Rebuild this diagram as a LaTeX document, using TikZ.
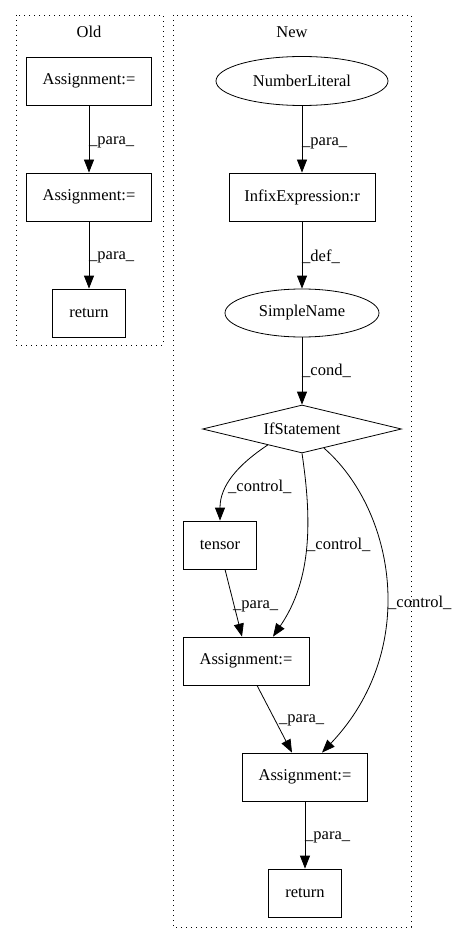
\documentclass[tikz,border=0pt]{standalone}
\usepackage{fontspec}
\setmainfont{Liberation Serif}
\usetikzlibrary{shapes.geometric,arrows.meta,calc}
\begin{document}
\begin{tikzpicture}[x=1pt,y=-1pt,
  every node/.style={font=\fontsize{16.5}{18}\selectfont},
  box/.style={draw, rectangle, inner sep=0pt, minimum height=48pt, line width=0.8pt},
  oval/.style={draw, ellipse, inner sep=0pt, minimum height=49pt, line width=0.8pt},
  cond/.style={draw, diamond, inner sep=0pt, aspect=4, minimum width=199pt, minimum height=48pt, line width=0.8pt},
  edge/.style={line width=0.8pt, -{Triangle[length=13pt,width=10pt]}},
  lbl/.style={inner sep=0pt, anchor=west},
  cluster/.style={dash pattern=on 1pt off 4pt, line width=0.8pt}]
\useasboundingbox (0,0) rectangle (463,944);
\draw[cluster] (16,15) rectangle (163,345);
\draw[cluster] (173,15) rectangle (411,927);
\node (oldt) at (89,32) {Old};
\node (newt) at (292,32) {New};
% Old
\node[box, minimum width=125pt] (oa1) at (89,81) {Assignment:=};
\node[box, minimum width=125pt] (oa2) at (89,197) {Assignment:=};
\node[box, minimum width=73pt] (oret) at (89,313) {return};
% New
\node[oval, minimum width=172pt] (num) at (302,81) {NumberLiteral};
\node[box, minimum width=146pt] (infix) at (302,197) {InfixExpression:r};
\node[oval, minimum width=154pt, minimum height=48pt] (sn) at (302,313) {SimpleName};
\node[cond] (ifs) at (302,429) {IfStatement};
\node[box, minimum width=73pt] (tensor) at (220,545) {tensor};
\node[box, minimum width=126pt] (na1) at (246,661) {Assignment:=};
\node[box, minimum width=125pt] (na2) at (305,777) {Assignment:=};
\node[box, minimum width=73pt] (nret) at (305,893) {return};
% edges
\draw[edge] (oa1) -- (oa2);
\draw[edge] (oa2) -- (oret);
\draw[edge] (num) -- (infix);
\draw[edge] (infix) -- (sn);
\draw[edge] (sn) -- (ifs);
\draw[edge] (ifs.205) .. controls +(-30,20) and +(0,-35) .. (tensor.north);
\draw[edge] (ifs.south) .. controls +(10,67) and +(39,-57) .. ($(na1.north)+(27,0)$);
\draw[edge] (ifs.-41) .. controls +(71,62) and +(98,-103) .. ($(na2.north)+(17,0)$);
\draw[edge] ($(tensor.south)+(5,0)$) -- ($(na1.north)+(-4,0)$);
\draw[edge] ($(na1.south)+(11,0)$) -- ($(na2.north)+(-13,0)$);
\draw[edge] (na2) -- (nret);
% labels
\node[lbl] (l1) at (89,142) {\_para\_};
\node[lbl] (l2) at (89,257) {\_para\_};
\node[lbl] (l3) at (302,143) {\_para\_};
\node[lbl] (l4) at (302,257) {\_def\_};
\node[lbl] (l5) at (302,371) {\_cond\_};
\node[lbl] (l6) at (228,487) {\_control\_};
\node[lbl] (l7) at (307,545) {\_control\_};
\node[lbl] (l8) at (388,603) {\_control\_};
\node[lbl] (l9) at (233,606) {\_para\_};
\node[lbl] (l10) at (279,720) {\_para\_};
\node[lbl] (l11) at (305,837) {\_para\_};
\end{tikzpicture}
\end{document}
